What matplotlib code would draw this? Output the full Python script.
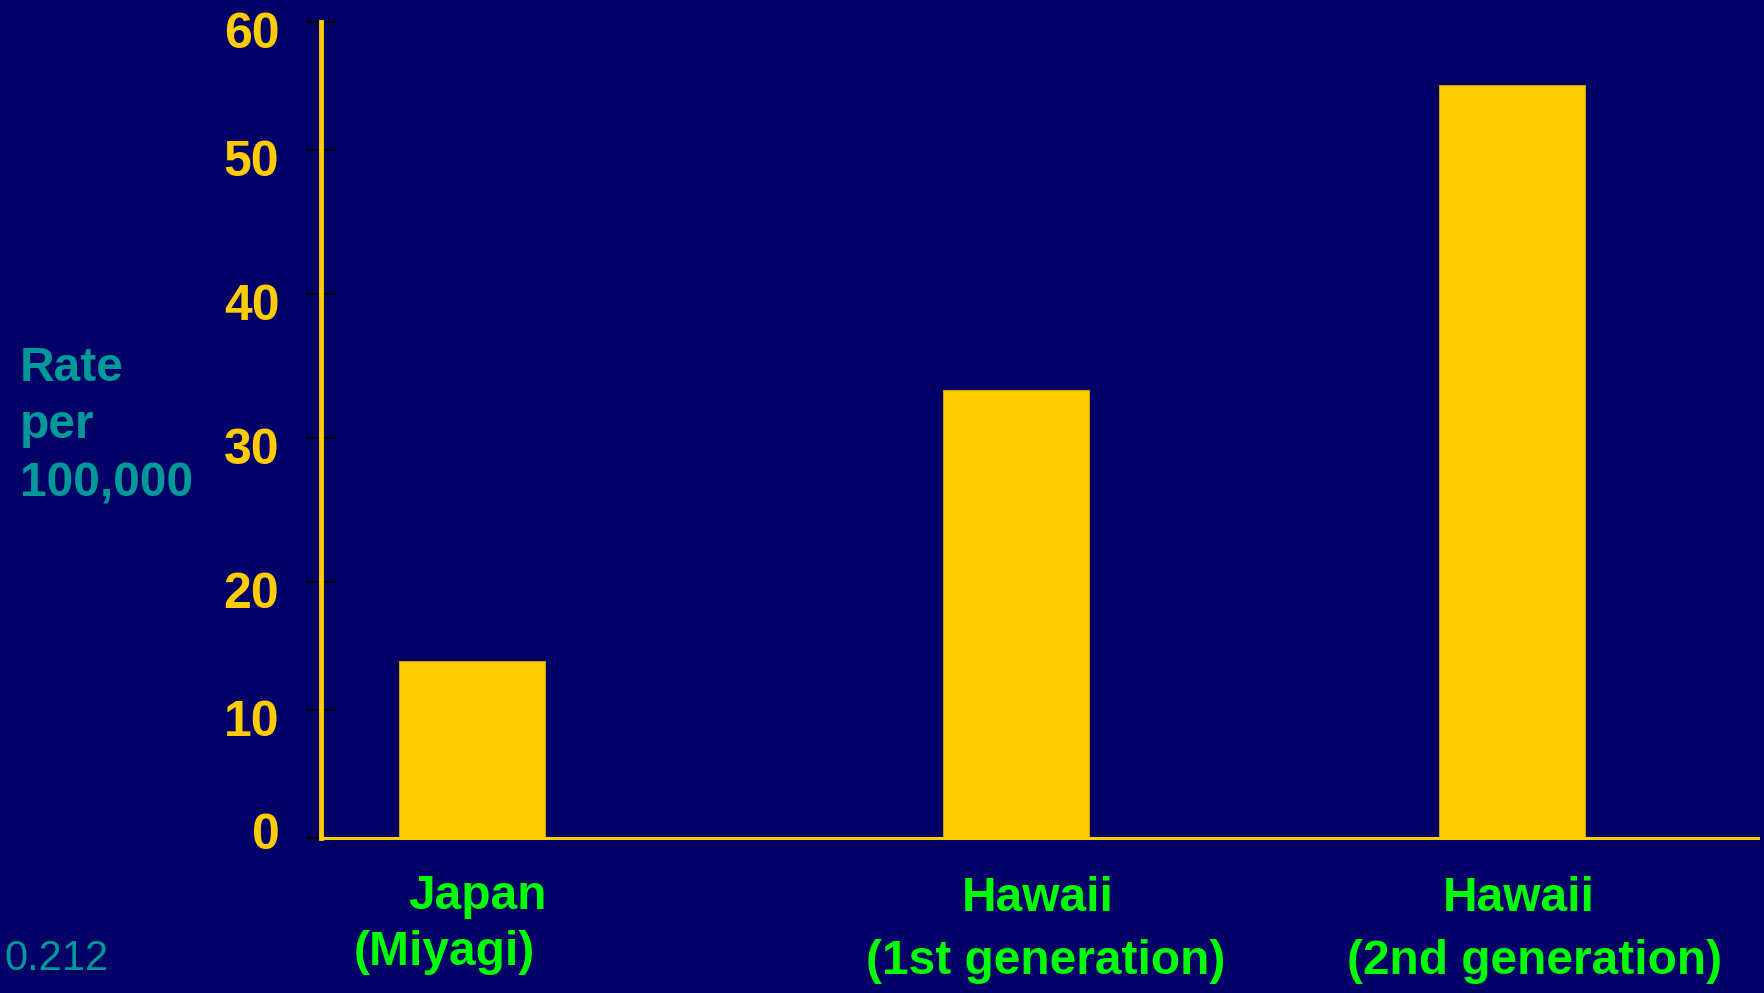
import numpy as np
import matplotlib
matplotlib.use('Agg')
import matplotlib.pyplot as plt
import matplotlib.transforms as mtransforms

plt.rcParams['font.family'] = ['Liberation Sans', 'DejaVu Sans']

# incidence rates per 100,000
groups = ['Japan (Miyagi)', 'Hawaii (1st generation)', 'Hawaii (2nd generation)']
rates = [13.8, 33.3, 55.1]
yticks = [0, 10, 20, 30, 40, 50, 60]

label_top = ['Japan', 'Hawaii', 'Hawaii']
label_bottom = ['(Miyagi)', '(1st generation)', '(2nd generation)']

W, H = 1764, 993
BG = '#000066'
GOLD = '#ffcc00'
TEAL = '#009999'
GREEN = '#00ff00'

def px(x, y):
    return x / W, 1 - y / H

# the slide's value axis has uneven spacing between its gridlines
tick_height = [0, 128, 256, 400, 544, 688, 816]

def fwd(v):
    return np.interp(v, yticks, tick_height)

def inv(h):
    return np.interp(h, tick_height, yticks)

fig = plt.figure(figsize=(W / 100, H / 100), dpi=100, facecolor=BG)
ax = fig.add_axes([321 / W, 1 - 838 / H, (1758 - 321) / W, (838 - 22) / H])
ax.set_facecolor(BG)
ax.set_yscale('function', functions=(fwd, inv))

xpos = [0, 1, 1.912]
ax.bar(xpos, rates, width=0.268, color=GOLD, edgecolor='#c8a000', linewidth=0.8, zorder=2)
ax.set_xlim(-0.278, 2.364)
ax.set_ylim(0, 60)

for s in ['top', 'right']:
    ax.spines[s].set_visible(False)
ax.spines['left'].set_color(GOLD)
ax.spines['left'].set_linewidth(3.5)
ax.spines['bottom'].set_color(GOLD)
ax.spines['bottom'].set_linewidth(2.2)
ax.spines['left'].set_zorder(3)

ax.set_xticks([])
ax.set_yticks(yticks)
ax.set_yticklabels([str(t) for t in yticks], fontweight='bold')
ax.tick_params(axis='y', direction='inout', length=22, width=1.5, color='black',
               pad=19, labelsize=36, labelcolor=GOLD)

# labels sit a little below their ticks, except the zero
for t, lab in zip(yticks, ax.get_yticklabels()):
    dy = 7 if t == 0 else -8
    lab.set_transform(lab.get_transform() +
                      mtransforms.ScaledTranslation(0, dy / 100, fig.dpi_scale_trans))

fig.text(*px(20, 426), 'Rate\nper\n100,000', color=TEAL, fontsize=34.5,
         fontweight='bold', ha='left', va='center', linespacing=1.36)

top_x = [477, 1038, 1519]
bot_x = [444, 1046, 1535]
top_y = [909, 911, 911]
bot_y = [965, 974, 974]
for i in range(len(groups)):
    fig.text(*px(top_x[i], top_y[i]), label_top[i], color=GREEN, fontsize=34.5,
             fontweight='bold', ha='center', va='baseline')
    fig.text(*px(bot_x[i], bot_y[i]), label_bottom[i], color=GREEN, fontsize=34.5,
             fontweight='bold', ha='center', va='baseline')

fig.text(*px(4, 970), '0.212', color=TEAL, fontsize=30, ha='left', va='baseline')

fig.savefig('out.png', dpi=100, facecolor=BG)
plt.close(fig)
